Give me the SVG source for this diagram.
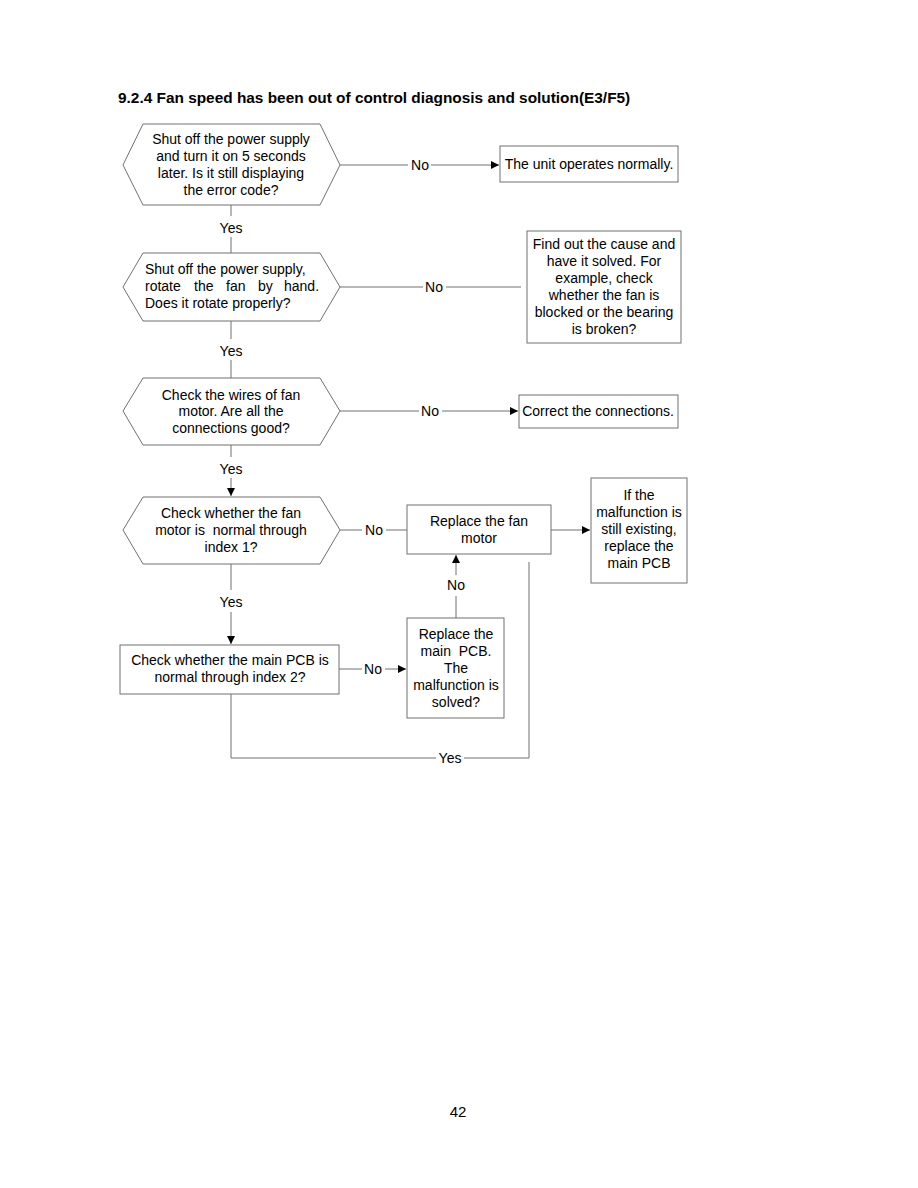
<svg xmlns="http://www.w3.org/2000/svg" width="918" height="1188" viewBox="0 0 918 1188">
<defs>
<style>
text{font-family:"Liberation Sans",Arial,sans-serif;font-size:14px;fill:#000}
.t{font-weight:bold;font-size:15.4px}
.c{text-anchor:middle}
.s{fill:#fff;stroke:#707070;stroke-width:1}
.l{fill:none;stroke:#707070;stroke-width:1}
</style>
<marker id="a" viewBox="0 0 10 10" refX="10" refY="5" markerWidth="8" markerHeight="8" markerUnits="userSpaceOnUse" orient="auto"><path d="M0,0 L10,5 L0,10 z" fill="#000"/></marker>
</defs>
<rect width="918" height="1188" fill="#fff"/>
<text class="t" x="118" y="103">9.2.4 Fan speed has been out of control diagnosis and solution(E3/F5)</text>

<g id="connectors">
<path class="l" d="M340,165 H408 M431,165 H499" marker-end="url(#a)"/>
<path class="l" d="M231,205 V216 M231,237 V253"/>
<path class="l" d="M340,287 H423 M446,287 H521"/>
<path class="l" d="M231,321 V339 M231,360 V378"/>
<path class="l" d="M340,411 H419 M442,411 H518" marker-end="url(#a)"/>
<path class="l" d="M231,445 V457 M231,478 V496" marker-end="url(#a)"/>
<path class="l" d="M340,530 H362 M386,530 H407"/>
<path class="l" d="M551,530 H590" marker-end="url(#a)"/>
<path class="l" d="M231,564 V590 M231,612 V644" marker-end="url(#a)"/>
<path class="l" d="M339,669 H362 M385,669 H406" marker-end="url(#a)"/>
<path class="l" d="M456,618 V596 M456,575 V555" marker-end="url(#a)"/>
<path class="l" d="M529,562 V758 H464 M436,758 H231 V694"/>
<text class="c" x="420" y="170">No</text>
<text class="c" x="231" y="233">Yes</text>
<text class="c" x="434" y="292">No</text>
<text class="c" x="231" y="356">Yes</text>
<text class="c" x="430" y="416">No</text>
<text class="c" x="231" y="474">Yes</text>
<text class="c" x="374" y="535">No</text>
<text class="c" x="231" y="607">Yes</text>
<text class="c" x="373" y="674">No</text>
<text class="c" x="456" y="590">No</text>
<text class="c" x="450" y="763">Yes</text>
</g>

<g id="n1">
<polygon class="s" points="123,165 143,124 320,124 340,165 320,205 143,205"/>
<text class="c" x="231" y="144">Shut off the power supply</text>
<text class="c" x="231" y="161">and turn it on 5 seconds</text>
<text class="c" x="231" y="178">later. Is it still displaying</text>
<text class="c" x="231" y="195">the error code?</text>
</g>
<g id="n2">
<rect class="s" x="500" y="146" width="178" height="36"/>
<text class="c" x="589" y="169">The unit operates normally.</text>
</g>
<g id="n3">
<polygon class="s" points="123,287 143,253 320,253 340,287 320,321 143,321"/>
<text x="145" y="274">Shut off the power supply,</text>
<text y="291"><tspan x="145">rotate</tspan><tspan x="194">the</tspan><tspan x="226">fan</tspan><tspan x="258">by</tspan><tspan x="284">hand.</tspan></text>
<text x="145" y="308">Does it rotate properly?</text>
</g>
<g id="n4">
<rect class="s" x="527" y="231" width="154" height="112"/>
<text class="c" x="604" y="249">Find out the cause and</text>
<text class="c" x="604" y="266">have it solved. For</text>
<text class="c" x="604" y="283">example, check</text>
<text class="c" x="604" y="300">whether the fan is</text>
<text class="c" x="604" y="317">blocked or the bearing</text>
<text class="c" x="604" y="334">is broken?</text>
</g>
<g id="n5">
<polygon class="s" points="123,411 143,378 320,378 340,411 320,445 143,445"/>
<text class="c" x="231" y="400">Check the wires of fan</text>
<text class="c" x="231" y="416">motor. Are all the</text>
<text class="c" x="231" y="433">connections good?</text>
</g>
<g id="n6">
<rect class="s" x="519" y="395" width="159" height="33"/>
<text class="c" x="598" y="416">Correct the connections.</text>
</g>
<g id="n7">
<polygon class="s" points="123,530 143,497 320,497 340,530 320,564 143,564"/>
<text class="c" x="231" y="518">Check whether the fan</text>
<text class="c" x="231" y="535" xml:space="preserve">motor is  normal through</text>
<text class="c" x="231" y="552">index 1?</text>
</g>
<g id="n8">
<rect class="s" x="407" y="505" width="144" height="49"/>
<text class="c" x="479" y="526">Replace the fan</text>
<text class="c" x="479" y="543">motor</text>
</g>
<g id="n9">
<rect class="s" x="591" y="478" width="96" height="105"/>
<text class="c" x="639" y="500">If the</text>
<text class="c" x="639" y="517">malfunction is</text>
<text class="c" x="639" y="534">still existing,</text>
<text class="c" x="639" y="551">replace the</text>
<text class="c" x="639" y="568">main PCB</text>
</g>
<g id="n10">
<rect class="s" x="120" y="645" width="219" height="49"/>
<text class="c" x="230" y="665">Check whether the main PCB is</text>
<text class="c" x="230" y="682">normal through index 2?</text>
</g>
<g id="n11">
<rect class="s" x="407" y="618" width="97" height="100"/>
<text class="c" x="456" y="639">Replace the</text>
<text class="c" x="456" y="656" xml:space="preserve">main  PCB.</text>
<text class="c" x="456" y="673">The</text>
<text class="c" x="456" y="690">malfunction is</text>
<text class="c" x="456" y="707">solved?</text>
</g>
<text class="c" x="458" y="1117" style="font-size:15px">42</text>
</svg>
